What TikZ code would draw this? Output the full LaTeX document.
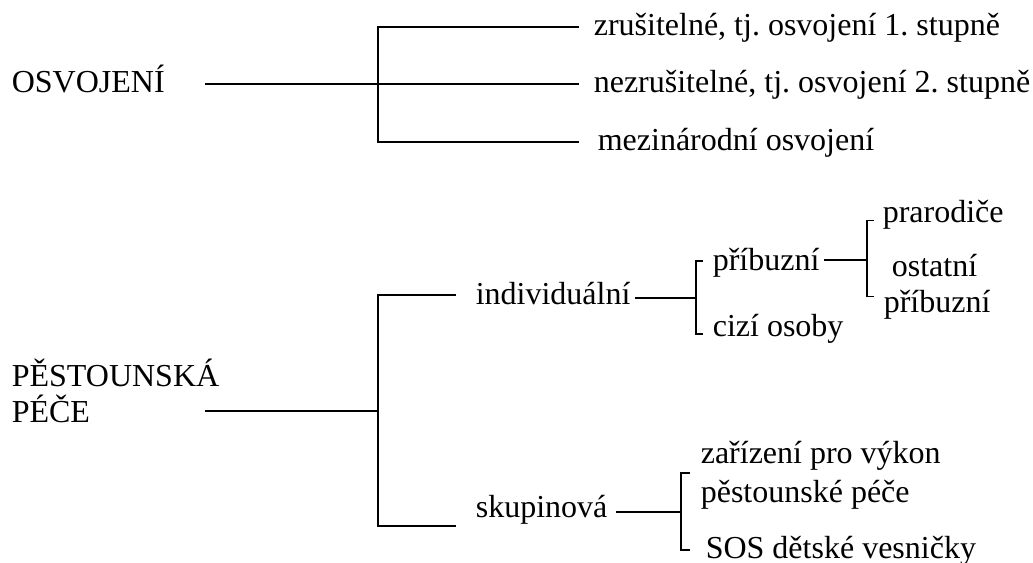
\documentclass[tikz,border=0pt]{standalone}
\usepackage{fontspec}
\setmainfont{Liberation Serif}
\usetikzlibrary{positioning}
\frenchspacing

\begin{document}
\begin{tikzpicture}[x=0.75pt, y=-0.75pt, line width=1.2pt, lbl/.style={inner sep=0pt, anchor=base west, font=\fontsize{24}{28}\selectfont}]
          \useasboundingbox (0,0) rectangle (1033,563);

          \node[lbl] (osv) at (11,93) {OSVOJENÍ};
          \node[lbl] (zrus) at (593,36) {zrušitelné, tj. osvojení 1. stupně};
          \node[lbl] (nezrus) at (593,93) {nezrušitelné, tj. osvojení 2. stupně};
          \node[lbl] (mezi) at (597,151) {mezinárodní osvojení};

          \node[lbl] (pes1) at (11,386.5) {PĚSTOUNSKÁ};
          \node[lbl] (pes2) at (11,422) {PÉČE};
          \node[lbl] (indiv) at (475,305) {individuální};
          \node[lbl] (skup) at (475,517) {skupinová};
          \node[lbl] (prib) at (712,270.5) {příbuzní};
          \node[lbl] (cizi) at (712,337) {cizí osoby};
          \node[lbl] (prar) at (882,223) {prarodiče};
          \node[lbl] (ost1) at (891,277) {ostatní};
          \node[lbl] (ost2) at (883,313) {příbuzní};
          \node[lbl] (zar1) at (700,463) {zařízení pro výkon};
          \node[lbl] (zar2) at (700,502) {pěstounské péče};
          \node[lbl] (sos) at (705,558) {SOS dětské vesničky};

          \coordinate (o0) at (205,84);
          \coordinate (o1) at (378,84);
          \coordinate (o1t) at (378,27);
          \coordinate (o1b) at (378,142);
          \coordinate (z0) at (579,27);
          \coordinate (n0) at (579,84);
          \coordinate (m0) at (579,142);

          \coordinate (p0) at (205,411);
          \coordinate (p1) at (378,411);
          \coordinate (p1t) at (378,295);
          \coordinate (p1b) at (378,526);
          \coordinate (i0) at (456,295);
          \coordinate (s0) at (456,526);

          \coordinate (i1) at (635,298);
          \coordinate (i2) at (696,298);
          \coordinate (i2t) at (696,261);
          \coordinate (i2b) at (696,334);
          \coordinate (pr0) at (703,261);
          \coordinate (ci0) at (703,334);

          \coordinate (r1) at (824,260);
          \coordinate (r2) at (867,260);
          \coordinate (r2t) at (867,220.5);
          \coordinate (r2b) at (867,296.5);
          \coordinate (pa0) at (874,220.5);
          \coordinate (ot0) at (874,296.5);

          \coordinate (k1) at (616,512);
          \coordinate (k2) at (681,512);
          \coordinate (k2t) at (681,473);
          \coordinate (k2b) at (681,550);
          \coordinate (za0) at (690,473);
          \coordinate (so0) at (690,550);

          \draw (o0) -- (n0);
          \draw (z0) -- (o1t) -- (o1b) -- (m0);
          \draw (p0) -- (p1);
          \draw (i0) -- (p1t) -- (p1b) -- (s0);
          \draw (i1) -- (i2);
          \draw (pr0) -- (i2t) -- (i2b) -- (ci0);
          \draw (r1) -- (r2);
          \draw (pa0) -- (r2t) -- (r2b) -- (ot0);
          \draw (k1) -- (k2);
          \draw (za0) -- (k2t) -- (k2b) -- (so0);
        \end{tikzpicture}
\end{document}
